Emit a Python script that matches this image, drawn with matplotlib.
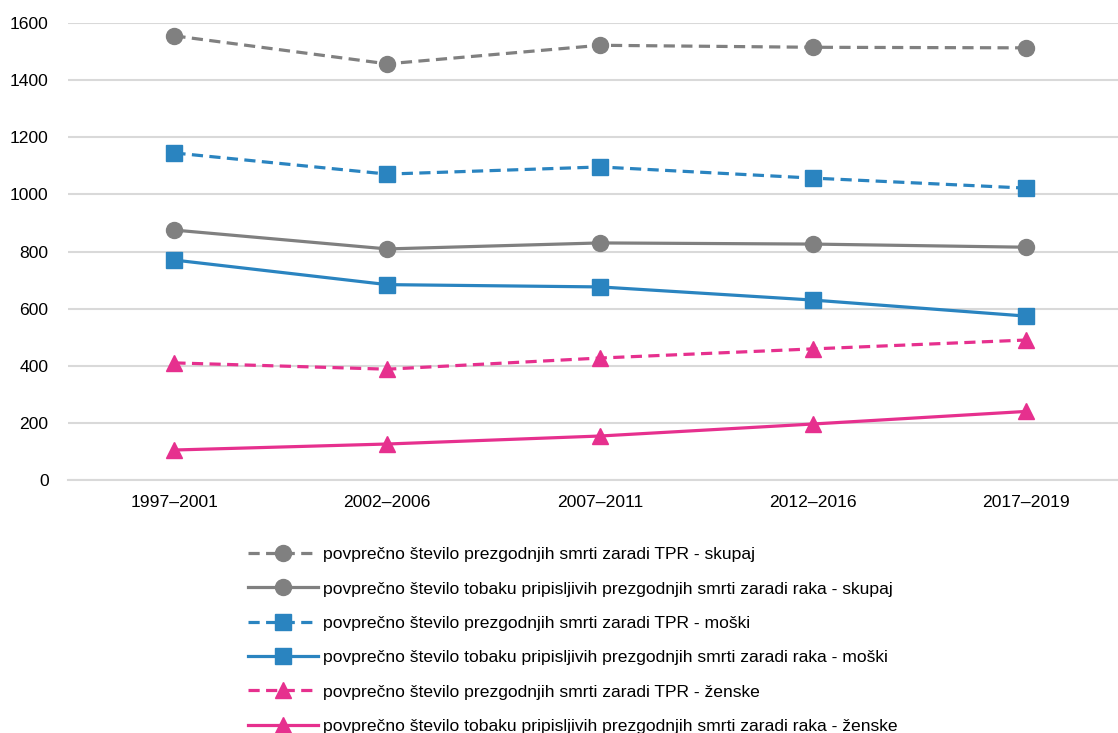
import matplotlib.pyplot as plt
import numpy as np

plt.rcParams['font.family'] = ['Liberation Sans', 'DejaVu Sans']

periods = ['1997–2001', '2002–2006', '2007–2011', '2012–2016', '2017–2019']

tpr_skupaj = [1555, 1457, 1522, 1515, 1513]
raka_skupaj = [875, 809, 830, 826, 815]
tpr_moski = [1145, 1071, 1096, 1057, 1022]
raka_moski = [770, 684, 676, 630, 574]
tpr_zenske = [410, 388, 427, 459, 490]
raka_zenske = [105, 126, 154, 196, 240]

labels = [
    'povprečno število prezgodnjih smrti zaradi TPR - skupaj',
    'povprečno število tobaku pripisljivih prezgodnjih smrti zaradi raka - skupaj',
    'povprečno število prezgodnjih smrti zaradi TPR - moški',
    'povprečno število tobaku pripisljivih prezgodnjih smrti zaradi raka - moški',
    'povprečno število prezgodnjih smrti zaradi TPR - ženske',
    'povprečno število tobaku pripisljivih prezgodnjih smrti zaradi raka - ženske',
]

GRAY = '#808080'
BLUE = '#2a84c0'
PINK = '#e6308e'

series = [
    (tpr_skupaj, GRAY, 'o', True),
    (raka_skupaj, GRAY, 'o', False),
    (tpr_moski, BLUE, 's', True),
    (raka_moski, BLUE, 's', False),
    (tpr_zenske, PINK, '^', True),
    (raka_zenske, PINK, '^', False),
]

FS = 12.6

fig = plt.figure(figsize=(11.18, 7.33), dpi=100)
ax = fig.add_axes([68 / 1118, 1 - 480 / 733, 1064 / 1118, 457 / 733])

x = np.arange(len(periods))
for (vals, color, marker, dashed), label in zip(series, labels):
    line, = ax.plot(x, vals, color=color, marker=marker, markersize=11.5,
                    linewidth=2.3, label=label, clip_on=False)
    if dashed:
        line.set_dashes((3.5, 2))

ax.set_xlim(-0.5, 4.5)
ax.set_ylim(0, 1600)
ax.set_yticks(range(0, 1601, 200))
ax.set_xticks(x)
ax.set_xticklabels(periods)
ax.grid(axis='y', color='#d9d9d9', linewidth=1.5)
ax.set_axisbelow(True)
for side in ['top', 'right', 'left']:
    ax.spines[side].set_visible(False)
ax.spines['bottom'].set_color('#d9d9d9')
ax.spines['bottom'].set_linewidth(1.5)
ax.tick_params(axis='both', length=0, labelsize=FS, colors='#000000')
ax.tick_params(axis='y', pad=14)
ax.tick_params(axis='x', pad=11)

fig.legend(loc='upper left', bbox_to_anchor=(241 / 1118, 1 - 540 / 733),
           frameon=False, fontsize=FS, handlelength=4.0, labelspacing=1.09,
           handletextpad=0.3, borderaxespad=0)

fig.savefig('out.png', dpi=100)
